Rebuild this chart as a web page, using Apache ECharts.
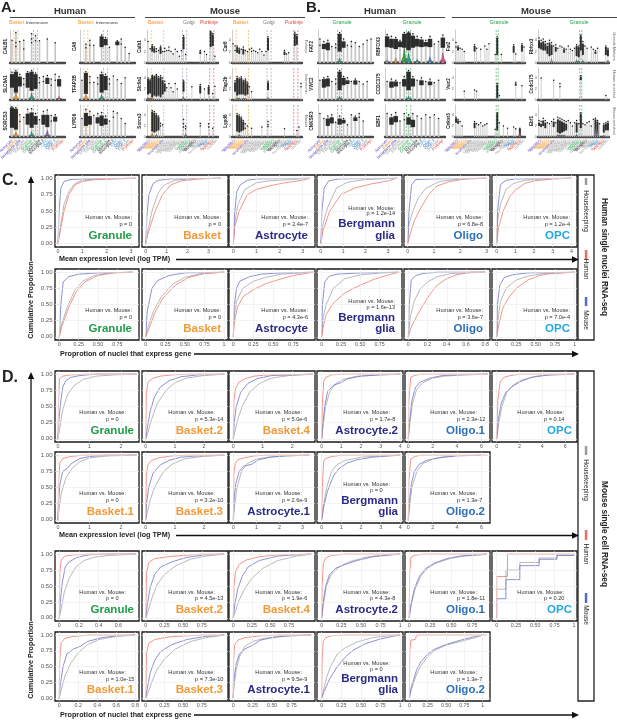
<!DOCTYPE html>
<html><head><meta charset="utf-8">
<script src="https://cdn.jsdelivr.net/npm/echarts@6/dist/echarts.min.js"></script>
<style>html,body{margin:0;padding:0;background:#fff}#c{width:617px;height:721px}</style>
</head><body><div id="c"></div>
<script>
// ================= DATA =================
const humanCats = ['Astrocyte','Basket','Bergmann glia','Endothelial','Fibroblast','Granule','Granule.2','Microglia','Microglia.2','OPC','Oligo','Oligo.2','Pericyte','Purkinje'];
const mouseCats = ['Astrocyte.1','Astrocyte.2','Basket.1','Basket.2','Basket.3','Basket.4','Basket.5','Bergmann glia','Choroid.1','Choroid.2',
  'Endothelial.1','Endothelial.2','Endothelial.3','Ependymal','Fibroblast.1','Fibroblast.2','Fibroblast.3','Golgi','Granule.1','Granule.2',
  'Granule.3','Macrophage','Microglia.1','Microglia.2','Mural.1','Mural.2','Neurogenesis','Oligo.1','Oligo.2','OPC','Purkinje.1','Purkinje.2','UBC','Unknown'];

// per category: [max value (stick top), dense range low, dense range high, ...other points]
const aH_CALB1  = [[3.6],[4.8,0,0,2.6,3.2],[3.4],[3.6,0,0,2.2],[0],[4.6,0,0,3.8,3.2],[4.3,0,0,3.5],[3.5],[0],[3.8],[0],[3.2],[0],[0]];
const aH_SLC6A1 = [[4.5,2,4.2],[4.8,1.2,4.6],[4.2,2.2,3.8],[3.5,0,0,2.5],[4.6,2,4.4],[4.8,1.5,4.6],[4.4,1.8,4.2],[3.6,0,0,2.8],[3.8,0,0,3.0],[4.0,2.6,3.6],[3.4,0,0,2.4],[4.2,0,0,3.2],[3.8,2.2,3.4],[0]];
const aH_SORCS3 = [[4.9,1.5,4.8],[4.8,1.2,4.6],[3.6,0,0,2.5],[3.2],[4.5,2,3.8],[4.6,1.5,4.0],[3.8,2,3.4],[2.8],[4.2,2,3.6],[4.4,1.6,3.6],[3.5,0,0,2.6],[3.6,2.5,3.3],[0],[0]];
const aH_CA8    = [[0],[3.0,0,0,2.4],[3.6,0,0,2.8],[2.8],[0],[4.4,2.5,4.2],[4.0,2.8,3.8],[2.5],[0],[3.5,2.8,3.4],[3.8,0,0,3.0],[2.5],[1.5],[0]];
const aH_TFAP2B = [[3.2],[4.6,1,4.4],[3.8,0,0,2.8],[2.9],[3.6,0,0,2.6],[4.5,1.2,4.2],[4.2,1.6,3.9],[3.4,0,0,2.6],[3.9],[3.3],[2.7],[3.6],[0],[0]];
const aH_LYPD6  = [[3.0],[4.5,1.8,3.9],[4.2,2,3.4],[3.5],[3.8,2.2,3.2],[4.0,1.8,3.5],[3.4,2,3.0],[2.6],[4.2,0,0,3.2],[3.9],[3.0],[2.2],[0],[0]];

const aM_Calb1 = [[3.8],[2.5],[3.2,2,3],[2.8,1.8,2.6],[2.5,0,0,2.0],[2.2],[3.0,1.6,2.8],[2.0],[2.6,0,0,2.0],[2.2],
  [2.8,0,0,2.2],[2.0],[1.6],[2.4],[2.0],[1.2],[2.2],[4.8,2.4,4.6],[1.5],[0],
  [0],[0],[0],[0],[0],[2.2,1.6,2.0],[0],[2.0],[1.5],[0],[5.6,2.8,5.5],[5.2,3,5.0],[1.2],[0]];
const aM_Slc6a1 = [[4,1,3.8],[3.8,1.2,3.6],[4.5,0.5,4.4],[4.3,0.8,4.2],[4.6,0.6,4.5],[4.2,0.8,4.0],[4.4,0.5,4.2],[4.0,1,3.6],[3.4,1.5,3.0],[2.2],
  [3.0],[2.2],[1.5],[3.0],[2.0],[0],[0],[3.6,1.5,3.4],[0],[0],
  [0],[2.4],[0],[0],[0],[2.8,1.2,2.6],[0],[2.0],[0],[2.6,1,2.4],[0],[1.2],[2.5],[0]];
const aM_Sorcs3 = [[0],[0],[4.8,1,4.6],[4.6,0.8,4.4],[4.2,1,4.0],[3.8,1.2,3.6],[2.5,0,0,2],[2.2],[0],[0],
  [0],[0],[0],[0],[0],[0],[0],[3.2,0,0,2.4,1.8],[2.0,0,0,1.5],[0],
  [0],[0],[0],[0],[0],[2.5,0,0,2],[0],[0],[0],[2.4,0,0,1.8],[0],[1.6],[0],[0]];
const aM_Car8 = [[3.4],[3.0,0,0,2.2],[3.0,1.8,2.8],[2.6,1.6,2.4],[2.4],[2.8,1.5,2.5],[2.2],[2.0],[2.4],[2.6,0,0,2],
  [2.2],[2.0],[1.8],[2.4],[2.0],[1.4],[2.0],[4.6,2.2,4.4],[0],[0],
  [0],[0],[0],[0],[0],[2.2,1.4,2.0],[1.6],[1.8],[0],[0],[5.4,3,5.2],[5.0,3.2,4.8],[0],[0]];
const aM_Tfap2b = [[0],[3.5,1.5,3.2],[4.2,0.8,4],[4.0,1,3.8],[4.2,1,4.0],[3.6,1,3.4],[3.8,0.8,3.6],[3.2,1,3.0],[2.4],[1.5],
  [0],[0],[0],[0],[0],[0],[0],[3.4,1.8,3.2],[0],[0],
  [0],[0],[0],[0],[0],[0],[0],[0],[0],[0],[0],[0],[0],[3.0,0,0,2.4]];
const aM_Lypd6 = [[0],[0],[4.2,1,4.0],[4.0,0.8,3.8],[3.6,1,3.4],[3.0,1.2,2.8],[2.4,0,0,1.6],[2.0],[0],[1.6],
  [0],[0],[0],[0],[1.8],[0],[0],[2.8,0,0,2.2,1.9],[0],[0],
  [0],[0],[0],[0],[0],[1.5],[0],[0],[0],[0],[0],[1.2],[1.8],[0]];

const bH_FAT2   = [[3.8,0,0,2.8],[3.4,2.2,3.0],[3.6,2,3.2],[2.6],[3.0,0,0,2.4],[4.8,1.8,4.6],[3.8,2.4,3.4],[2.8],[3.4,0,0,2.6],[3.2],[2.6],[3.0],[3.6],[3.8]];
const bH_VWC2   = [[3.2],[3.6,2,3.4],[3.8,2.2,3.5],[3.0],[3.4,0,0,2.6],[4.8,1.6,4.6],[3.8,2.4,3.6],[3.6,2.6,3.2],[3.0],[3.4,2.5,3.2],[3.0],[2.6],[3.0],[0]];
const bH_CNKSR3 = [[3.8],[3.0],[3.4,1.8,3.0],[3.6,2.2,3.2],[2.4],[3.4,2,3.0],[3.0,2.2,2.8],[2.0],[3.6],[3.4,2.6,3.2],[3.8,0,0,3.2],[2.6],[0],[0]];
const bH_RBFOX3 = [[4.5,2.5,4.2],[4.2,2.4,3.8],[4.0,2.2,3.8],[3.6,2.5,3.4],[4.8,2.4,4.6],[4.9,2,4.8],[4.6,2.4,4.3],[4.2,2.6,3.8],[4.0,2.5,3.7],[3.6,2.6,3.3],[4.2,2.5,3.8],[3.0],[3.4],[4.4,2.4,4.0]];
const bH_CCDC175= [[3.0],[3.4,2,3.0],[3.2,2.2,3.0],[2.8],[3.8,2.2,3.4],[4.8,1.6,4.6],[3.8,2.2,3.5],[3.2],[3.6,2.4,3.2],[3.0],[3.4,2.4,3.0],[2.8],[3.2],[0]];
const bH_EBF1   = [[3.8],[3.6,2,3.2],[4.0,2.4,3.4],[2.6],[3.8,0,0,2.8],[3.6,2,3.2],[3.8,1.6,2.8],[3.4],[3.0],[3.6],[3.2],[3.6],[3.0],[0]];

const bM_Fat2 = [[3.6,0,0,2.8],[3.0,2.2,2.8],[2.6],[2.4],[2.0],[0],[0],[0],[0],[3.2,2,3.0],
  [2.6],[0],[2.4],[0],[3.0],[2.4],[3.4],[0],[0],[1.5],
  [4.6,1.4,4.4],[0],[1.5],[0],[0],[0],[0],[0],[3.2,1.8,3.0],[1.6],[0],[0],[3.4,2,3.2],[2.8]];
const bM_Vwc2 = [[0],[0],[0],[0],[1.6],[0],[0],[0],[0],[1.8],
  [1.6],[0],[0],[0],[0],[0],[0],[0],[0],[0],
  [3.0,0.4,2.8],[0.8],[0],[0],[0],[0],[0],[0],[0],[3.2,2.6,3.0],[0],[0],[2.6],[0]];
const bM_Cnksr3 = [[3.6,2.6,3.4],[3.2,2.4,3.0],[2.8],[2.0],[0],[0],[0],[0],[0],[2.8,1.6,2.6],
  [2.4],[2.2],[2.6],[2.0],[2.2],[2.4],[0],[0],[0],[1.4],
  [4.4,1.2,4.3],[2.6],[0],[2.0],[0],[1.6],[0],[0],[1.8],[1.5],[0],[1.6,0.2,1.5],[0],[0]];
const bM_Rbfox3 = [[4.4,2.6,4],[4.0,2.4,3.6],[4.2,2.2,3.8],[3.8,2.2,3.4],[3.4,1.6,3.0],[4.0,1.2,3.6],[3.6,1.4,3.2],[3.0],[3.2,2,2.8],[2.6],
  [3.0],[2.8],[2.6,1.8,2.4],[2.4],[3.0],[2.4],[2.2],[2.6],[3.2,1.2,3.0],[3.0,1.0,2.8],
  [4.9,2.2,4.8],[3.8,1.4,3.4],[3.0],[2.6],[0],[2.8],[2.4],[2.2,1.6,2.0],[2.6],[0],[0],[0],[3.0,1.4,2.8],[2.6,1.2,2.4]];
const bM_Ccdc175 = [[0],[4.0],[0],[0],[0],[0],[0],[3.6],[0],[0],
  [3.0,0,0,2.4],[0],[0],[0],[0],[0],[0],[0],[0],[0],
  [4.4,3.6,4.2],[0],[0],[0],[0],[0],[0],[0],[0],[0],[0],[0],[0.8],[0]];
const bM_Ebf1 = [[3.0,2,2.6],[2.8,1.8,2.4],[3.4,2,3.0],[3.0,1.6,2.6],[2.6],[2.4],[2.8],[3.2,1.8,2.8],[2.6],[3.6,0.8,3.2],
  [3.4,0.6,3.0],[3.2,0.8,2.8],[3.0,1,2.6],[2.8,1.2,2.4],[3.0],[2.6],[2.0],[2.6],[3.0,0.8,2.6],[2.4],
  [4.4,1.6,4.2],[2.4],[2.2],[2.6],[2.8],[2.0],[3.2],[3.4,0.5,3.2],[3.0,0.5,2.8],[2.4],[0],[2.4,0.8,2.2],[2.6,1.2,2.4],[2.8,1.2,2.6]];

// violins at the base: [category index, height, group]
const aH_SLC6A1_vio = [[1,1.2,'bas'],[5,1.2,'tea'],[12,0.6,'red']];
const aH_SORCS3_vio = [[1,0.8,'bas'],[5,0.9,'tea'],[9,1.1,'vio']];
const aH_TFAP2B_vio = [[1,0.9,'bas'],[5,0.9,'tea']];
const aM_Slc6a1_vio = [[0,0.5,'red'],[1,0.4,'red'],[2,0.6,'olv'],[17,0.6,'tea']];
const aM_Sorcs3_vio = [[2,0.7,'olv'],[4,0.5,'olv'],[18,0.6,'tea']];
const aM_Tfap2b_vio = [[2,0.5,'olv'],[3,0.4,'olv'],[5,0.4,'olv'],[6,0.3,'olv'],[17,0.5,'tea']];
const aM_Lypd6_vio  = [[3,0.5,'olv']];
const bH_FAT2_vio   = [[5,0.8,'tea']];
const bH_VWC2_vio   = [[5,0.6,'tea']];
const bH_RBFOX3_vio = [[0,0.5,'gry'],[2,0.8,'bas'],[4,2.4,'grn'],[5,1.6,'tea'],[7,0.6,'tea'],[10,1.0,'blu'],[13,1.6,'pnk']];
const bH_CCDC175_vio= [[5,0.6,'tea']];
const bM_Vwc2_vio   = [[20,0.3,'tea']];
const bM_Cnksr3_vio = [[31,1.2,'pnk']];
const bM_Rbfox3_vio = [[6,0.8,'olv'],[18,0.6,'tea'],[19,0.5,'tea'],[21,0.5,'tea'],[33,0.5,'pnk']];
const bM_Ebf1_vio   = [[9,0.5,'grn'],[10,0.4,'grn'],[11,0.4,'grn'],[12,0.4,'grn'],[18,0.5,'tea'],[27,1.8,'lav'],[28,1.6,'lav'],[31,0.3,'pnk']];

// highlighted category ranges: [from, to, group]
const aH_marks = [[1,1,'bas'],[6,6,'gry']];
const aM_marks = [[2,7,'bas'],[17,18,'gry'],[30,31,'red']];
const bH_marks = [[5,5,'grn']];
const bM_marks = [[20,20,'grn']];

// ---- Panel C : human single nuclei ----
const cTitles = ['Granule','Basket','Astrocyte','Bergmann glia','Oligo','OPC'];
const cMeanP  = ['0','0','2.4e-7','1.2e-14','6.8e-8','1.2e-4'];
const cPropP  = ['0','0','4.3e-6','1.6e-13','3.6e-7','7.0e-4'];
const cMeanTicks = [[0,1,2,3],[0,1,2,3],[0,1,2,3],[0,1,2,3],[0,1,2,3],[0,1,2,3,4]];
const cPropTicks = [[0,0.25,0.5,0.75],[0,0.25,0.5,0.75,1],[0,0.25,0.5,0.75],[0,0.25,0.5,0.75],[0,0.2,0.4,0.6,0.8],[0,0.25,0.5,0.75,1]];
const cMeanHK = [
 [[0,0],[0.1,0.25],[0.25,0.6],[0.45,0.8],[0.7,0.92],[1,0.97],[1.5,0.99],[3.2,1]],
 [[0,0],[0.1,0.2],[0.3,0.5],[0.6,0.78],[0.9,0.9],[1.4,0.97],[2,0.99],[3.6,1]],
 [[0,0],[0.05,0.3],[0.2,0.6],[0.5,0.83],[1,0.93],[1.5,0.96],[2.5,0.98],[3.3,1]],
 [[0,0],[0.1,0.3],[0.3,0.55],[0.7,0.85],[1.2,0.94],[2,0.98],[3.4,1]],
 [[0,0],[0.05,0.3],[0.2,0.5],[0.4,0.7],[0.7,0.85],[1.2,0.95],[2,0.99],[3,1]],
 [[0,0],[0.05,0.35],[0.2,0.6],[0.5,0.83],[0.9,0.92],[1.5,0.97],[2.5,0.99],[4,1]]];
const cMeanHuman = [
 [[0,0],[0.1,0.2],[0.25,0.5],[0.45,0.75],[0.7,0.9],[1,0.95],[1.5,0.98],[3.2,1]],
 [[0,0],[0.1,0.15],[0.45,0.5],[0.8,0.75],[1.2,0.9],[1.7,0.96],[2.5,0.99],[3.6,1]],
 [[0,0],[0.05,0.25],[0.25,0.5],[0.6,0.75],[1,0.83],[1.5,0.88],[2.2,0.93],[3,0.97],[3.3,1]],
 [[0,0],[0.1,0.2],[0.4,0.5],[0.9,0.75],[1.5,0.85],[2.2,0.91],[3,0.96],[3.4,1]],
 [[0,0],[0.1,0.15],[0.25,0.35],[0.5,0.55],[0.8,0.75],[1.1,0.88],[1.6,0.95],[2.2,0.99],[3,1]],
 [[0,0],[0.1,0.25],[0.35,0.5],[0.7,0.72],[1,0.82],[1.5,0.92],[2,0.96],[3,0.99],[4,1]]];
const cMeanMouse = [
 [[0,0],[0.05,0.5],[0.12,0.85],[0.25,0.95],[0.5,0.98],[1,0.99],[3.2,1]],
 [[0,0],[0.05,0.4],[0.15,0.75],[0.35,0.92],[0.6,0.97],[1.2,0.99],[3.6,1]],
 [[0,0],[0.05,0.45],[0.15,0.8],[0.3,0.9],[0.6,0.97],[1,0.99],[3.3,1]],
 [[0,0],[0.05,0.5],[0.15,0.85],[0.35,0.96],[0.8,0.99],[3.4,1]],
 [[0,0],[0.05,0.5],[0.15,0.9],[0.3,0.98],[1,0.99],[3,1]],
 [[0,0],[0.05,0.5],[0.2,0.9],[0.5,0.97],[1,0.99],[4,1]]];
const cPropHK = [
 [[0,0],[0.03,0.2],[0.1,0.45],[0.2,0.72],[0.3,0.86],[0.45,0.95],[0.65,0.99],[0.95,1]],
 [[0,0],[0.03,0.15],[0.1,0.4],[0.2,0.62],[0.35,0.82],[0.5,0.92],[0.7,0.98],[1,1]],
 [[0,0],[0.01,0.3],[0.04,0.55],[0.12,0.75],[0.25,0.86],[0.4,0.92],[0.6,0.97],[1,1]],
 [[0,0],[0.02,0.3],[0.06,0.5],[0.15,0.75],[0.3,0.9],[0.5,0.96],[0.8,0.99],[1,1]],
 [[0,0],[0.02,0.3],[0.06,0.55],[0.12,0.73],[0.2,0.85],[0.3,0.93],[0.45,0.98],[0.8,1]],
 [[0,0],[0.02,0.3],[0.05,0.55],[0.12,0.75],[0.25,0.88],[0.4,0.94],[0.6,0.98],[1,1]]];
const cPropHuman = [
 [[0,0],[0.03,0.15],[0.12,0.45],[0.22,0.7],[0.33,0.85],[0.5,0.95],[0.7,0.99],[0.95,1]],
 [[0,0],[0.04,0.12],[0.12,0.38],[0.22,0.6],[0.38,0.8],[0.55,0.92],[0.75,0.98],[1,1]],
 [[0,0],[0.01,0.2],[0.05,0.45],[0.12,0.62],[0.25,0.73],[0.4,0.82],[0.55,0.88],[0.75,0.95],[1,1]],
 [[0,0],[0.02,0.15],[0.06,0.35],[0.15,0.52],[0.3,0.68],[0.5,0.8],[0.7,0.9],[0.9,0.97],[1,1]],
 [[0,0],[0.03,0.15],[0.08,0.3],[0.15,0.48],[0.22,0.65],[0.3,0.8],[0.4,0.9],[0.5,0.96],[0.65,1],[0.8,1]],
 [[0,0],[0.03,0.2],[0.08,0.45],[0.15,0.6],[0.25,0.75],[0.4,0.88],[0.55,0.95],[0.7,0.98],[1,1]]];
const cPropMouse = [
 [[0,0],[0.02,0.5],[0.05,0.85],[0.12,0.93],[0.25,0.97],[0.5,0.99],[0.95,1]],
 [[0,0],[0.02,0.4],[0.08,0.75],[0.15,0.87],[0.3,0.95],[0.5,0.99],[1,1]],
 [[0,0],[0.01,0.45],[0.04,0.75],[0.08,0.86],[0.2,0.93],[0.35,0.97],[0.6,0.99],[1,1]],
 [[0,0],[0.01,0.5],[0.04,0.85],[0.1,0.94],[0.2,0.97],[0.5,0.99],[1,1]],
 [[0,0],[0.01,0.5],[0.03,0.88],[0.08,0.95],[0.15,0.98],[0.3,1],[0.8,1]],
 [[0,0],[0.01,0.5],[0.04,0.8],[0.1,0.92],[0.2,0.96],[0.4,0.99],[1,1]]];

// ---- Panel D : mouse single cell ----
const dTitlesA = ['Granule','Basket.2','Basket.4','Astrocyte.2','Oligo.1','OPC'];
const dTitlesB = ['Basket.1','Basket.3','Astrocyte.1','Bergmann glia','Oligo.2'];
const dMeanP_A = ['0','5.3e-14','5.0e-6','1.7e-8','2.3e-12','0.14'];
const dMeanP_B = ['0','3.2e-10','2.6e-9','0','1.3e-7'];
const dPropP_A = ['0','4.5e-13','1.9e-6','4.3e-8','1.8e-11','0.20'];
const dPropP_B = ['1.0e-15','7.3e-10','9.5e-9','0','1.3e-7'];
const dMeanTicksA = [[0,1,2],[0,1,2],[0,1,2],[0,1,2,3,4],[0,2,4,6],[0,2,4,6]];
const dMeanTicksB = [[0,1,2],[0,1,2],[0,1,2,3],[0,1,2,3,4],[0,2,4,6]];
const dPropTicksA = [[0,0.2,0.4,0.6],[0,0.25,0.5,0.75],[0,0.25,0.5,0.75],[0,0.25,0.5,0.75,1],[0,0.25,0.5,0.75],[0,0.25,0.5,0.75,1]];
const dPropTicksB = [[0,0.2,0.4,0.6,0.8],[0,0.25,0.5,0.75],[0,0.25,0.5,0.75],[0,0.25,0.5,0.75,1],[0,0.25,0.5,0.75,1]];

const dMeanHK_A = [
 [[0,0],[0.05,0.15],[0.15,0.45],[0.3,0.68],[0.5,0.82],[0.8,0.92],[1.2,0.97],[1.8,0.99],[2.5,1]],
 [[0,0],[0.08,0.1],[0.2,0.3],[0.4,0.55],[0.7,0.75],[1,0.87],[1.4,0.94],[2,0.98],[2.7,1]],
 [[0,0],[0.05,0.1],[0.15,0.3],[0.3,0.5],[0.55,0.72],[0.9,0.86],[1.3,0.94],[1.9,0.98],[2.7,1]],
 [[0,0],[0.05,0.15],[0.2,0.5],[0.4,0.72],[0.7,0.85],[1.1,0.92],[1.8,0.97],[2.8,0.99],[4,1]],
 [[0,0],[0.1,0.2],[0.35,0.55],[0.7,0.77],[1.2,0.87],[2,0.94],[3,0.97],[4.5,0.99],[6.5,1]],
 [[0,0],[0.15,0.2],[0.45,0.5],[0.9,0.72],[1.5,0.84],[2.2,0.91],[3.5,0.97],[5,0.99],[6.8,1]]];
const dMeanHuman_A = [
 [[0,0],[0.02,0.6],[0.05,0.93],[0.15,0.97],[0.4,0.99],[1,1],[2.5,1]],
 [[0,0],[0.02,0.7],[0.08,0.88],[0.25,0.94],[0.5,0.97],[0.9,0.99],[1.5,1],[2.7,1]],
 [[0,0],[0.02,0.6],[0.08,0.78],[0.2,0.88],[0.4,0.93],[0.7,0.97],[1.2,0.99],[2.7,1]],
 [[0,0],[0.03,0.5],[0.1,0.88],[0.2,0.95],[0.5,0.99],[1,1],[4,1]],
 [[0,0],[0.05,0.6],[0.2,0.95],[0.5,0.98],[1,1],[6.5,1]],
 [[0,0],[0.1,0.6],[0.3,0.88],[0.6,0.95],[1.2,0.98],[2,1],[6.8,1]]];
const dMeanMouse_A = [
 [[0,0],[0.03,0.3],[0.08,0.55],[0.15,0.8],[0.25,0.9],[0.4,0.95],[0.7,0.98],[1.2,1],[2.5,1]],
 [[0,0],[0.05,0.15],[0.15,0.42],[0.3,0.65],[0.5,0.8],[0.8,0.9],[1.2,0.96],[1.8,0.99],[2.7,1]],
 [[0,0],[0.03,0.25],[0.1,0.5],[0.25,0.72],[0.5,0.86],[0.8,0.93],[1.3,0.98],[2.7,1]],
 [[0,0],[0.05,0.2],[0.15,0.5],[0.3,0.73],[0.6,0.83],[1,0.87],[1.3,0.93],[2,0.97],[3,0.99],[4,1]],
 [[0,0],[0.1,0.25],[0.3,0.6],[0.6,0.8],[1,0.88],[1.8,0.94],[2.8,0.98],[4,0.99],[6.5,1]],
 [[0,0],[0.15,0.3],[0.4,0.55],[0.8,0.72],[1.3,0.8],[2,0.88],[3,0.95],[4.5,0.99],[6.8,1]]];
const dMeanHK_B = [
 [[0,0],[0.03,0.15],[0.1,0.4],[0.25,0.65],[0.45,0.8],[0.7,0.9],[1,0.96],[1.6,0.99],[2.5,1]],
 [[0,0],[0.05,0.1],[0.15,0.3],[0.3,0.5],[0.6,0.74],[0.9,0.86],[1.3,0.94],[1.9,0.98],[2.7,1]],
 [[0,0],[0.05,0.2],[0.15,0.48],[0.35,0.75],[0.6,0.87],[1,0.94],[1.5,0.97],[2.2,0.99],[3.3,1]],
 [[0,0],[0.08,0.2],[0.25,0.5],[0.5,0.75],[0.8,0.86],[1.2,0.92],[2,0.97],[3,0.99],[4,1]],
 [[0,0],[0.1,0.2],[0.3,0.5],[0.7,0.75],[1.2,0.87],[2,0.94],[3,0.98],[3.8,0.99]]];
const dMeanHuman_B = [
 [[0,0],[0.02,0.6],[0.06,0.88],[0.15,0.95],[0.4,0.98],[0.8,1],[2.5,1]],
 [[0,0],[0.02,0.7],[0.08,0.86],[0.2,0.92],[0.45,0.96],[0.9,0.99],[1.5,1],[2.7,1]],
 [[0,0],[0.02,0.7],[0.08,0.87],[0.2,0.93],[0.5,0.96],[0.9,0.99],[1.5,1],[3.3,1]],
 [[0,0],[0.03,0.5],[0.1,0.9],[0.2,0.95],[0.5,0.98],[1,1],[4,1]],
 [[0,0],[0.05,0.6],[0.2,0.94],[0.5,0.98],[1,1],[6.5,1]]];
const dMeanMouse_B = [
 [[0,0],[0.02,0.3],[0.06,0.55],[0.15,0.75],[0.3,0.8],[0.45,0.88],[0.7,0.95],[1,0.98],[1.5,1],[2.5,1]],
 [[0,0],[0.03,0.25],[0.1,0.5],[0.25,0.72],[0.5,0.85],[0.8,0.92],[1.2,0.97],[1.8,0.99],[2.7,1]],
 [[0,0],[0.03,0.3],[0.1,0.55],[0.25,0.75],[0.45,0.83],[0.8,0.86],[1.1,0.93],[1.6,0.97],[2.3,0.99],[3.3,1]],
 [[0,0],[0.1,0.2],[0.3,0.45],[0.6,0.68],[0.9,0.8],[1.3,0.88],[1.8,0.93],[2.6,0.97],[3.5,0.99],[4,1]],
 [[0,0],[0.1,0.3],[0.25,0.55],[0.5,0.75],[0.9,0.86],[1.5,0.92],[2.5,0.96],[4,0.99],[6,1]]];

const dPropHK_A = [
 [[0,0],[0.02,0.15],[0.05,0.4],[0.1,0.62],[0.17,0.8],[0.25,0.9],[0.35,0.95],[0.5,0.98],[0.78,1]],
 [[0,0],[0.03,0.1],[0.08,0.3],[0.15,0.52],[0.25,0.68],[0.4,0.82],[0.6,0.92],[0.8,0.97],[1.05,1]],
 [[0,0],[0.03,0.1],[0.08,0.28],[0.15,0.45],[0.25,0.62],[0.4,0.78],[0.6,0.9],[0.85,0.97],[1.05,1]],
 [[0,0],[0.02,0.2],[0.06,0.5],[0.12,0.68],[0.22,0.8],[0.35,0.88],[0.55,0.95],[0.8,0.99],[1,1]],
 [[0,0],[0.02,0.18],[0.07,0.45],[0.14,0.66],[0.22,0.78],[0.32,0.86],[0.48,0.93],[0.65,0.97],[0.85,0.99],[0.92,1]],
 [[0,0],[0,0.45],[0.12,0.45],[0.12,0.75],[0.3,0.75],[0.3,0.87],[0.55,0.87],[0.55,0.94],[0.78,0.94],[0.78,0.99],[1,0.99],[1,1]]];
const dPropHuman_A = [
 [[0,0],[0.005,0.7],[0.02,0.92],[0.06,0.97],[0.15,0.99],[0.3,1],[0.78,1]],
 [[0,0],[0.01,0.7],[0.04,0.87],[0.12,0.93],[0.3,0.96],[0.5,0.98],[0.75,1],[1.05,1]],
 [[0,0],[0.01,0.5],[0.03,0.72],[0.08,0.84],[0.18,0.91],[0.35,0.96],[0.6,0.99],[1.05,1]],
 [[0,0],[0.005,0.5],[0.02,0.85],[0.05,0.94],[0.12,0.98],[0.3,1],[1,1]],
 [[0,0],[0.005,0.7],[0.02,0.95],[0.06,0.98],[0.15,1],[0.92,1]],
 [[0,0],[0,0.65],[0.14,0.65],[0.14,1],[1,1]]];
const dPropMouse_A = [
 [[0,0],[0.01,0.25],[0.03,0.55],[0.06,0.8],[0.1,0.88],[0.18,0.95],[0.3,0.99],[0.5,1],[0.78,1]],
 [[0,0],[0.02,0.2],[0.06,0.48],[0.12,0.68],[0.2,0.8],[0.35,0.88],[0.55,0.95],[0.8,0.99],[1.05,1]],
 [[0,0],[0.02,0.2],[0.06,0.45],[0.12,0.65],[0.2,0.8],[0.35,0.9],[0.6,0.97],[0.85,0.99],[1.05,1]],
 [[0,0],[0.02,0.25],[0.05,0.5],[0.1,0.68],[0.18,0.78],[0.3,0.84],[0.45,0.9],[0.65,0.96],[0.9,0.99],[1,1]],
 [[0,0],[0.02,0.2],[0.06,0.45],[0.12,0.65],[0.2,0.78],[0.3,0.86],[0.45,0.93],[0.6,0.97],[0.8,0.99],[0.92,1]],
 [[0,0],[0,0.3],[0.12,0.3],[0.12,0.6],[0.3,0.6],[0.3,0.82],[0.55,0.82],[0.55,0.92],[0.78,0.92],[0.78,0.98],[1,0.98],[1,1]]];
const dPropHK_B = [
 [[0,0],[0.02,0.12],[0.06,0.35],[0.12,0.55],[0.2,0.72],[0.3,0.85],[0.42,0.93],[0.6,0.98],[0.8,1]],
 [[0,0],[0.03,0.08],[0.08,0.25],[0.15,0.45],[0.25,0.62],[0.4,0.78],[0.6,0.9],[0.85,0.97],[1.05,1]],
 [[0,0],[0.01,0.2],[0.04,0.45],[0.08,0.65],[0.15,0.82],[0.25,0.9],[0.4,0.95],[0.6,0.98],[1,1]],
 [[0,0],[0.02,0.1],[0.06,0.32],[0.12,0.52],[0.2,0.7],[0.3,0.8],[0.45,0.89],[0.65,0.96],[0.85,0.99],[1,1]],
 [[0,0],[0.02,0.1],[0.06,0.25],[0.1,0.38],[0.16,0.52],[0.25,0.66],[0.35,0.76],[0.5,0.84],[0.7,0.9],[0.9,0.96],[1,1]]];
const dPropHuman_B = [
 [[0,0],[0.005,0.6],[0.02,0.88],[0.06,0.95],[0.15,0.98],[0.3,1],[0.8,1]],
 [[0,0],[0.01,0.7],[0.04,0.87],[0.12,0.93],[0.3,0.97],[0.55,0.99],[0.8,1],[1.05,1]],
 [[0,0],[0.005,0.6],[0.02,0.85],[0.06,0.92],[0.15,0.96],[0.35,0.99],[0.6,1],[1,1]],
 [[0,0],[0.005,0.6],[0.02,0.9],[0.05,0.96],[0.12,0.99],[0.3,1],[1,1]],
 [[0,0],[0.005,0.75],[0.02,0.92],[0.08,0.93],[0.1,1],[1.05,1]]];
const dPropMouse_B = [
 [[0,0],[0.01,0.2],[0.04,0.5],[0.08,0.7],[0.15,0.78],[0.22,0.82],[0.3,0.9],[0.45,0.96],[0.6,0.99],[0.8,1]],
 [[0,0],[0.02,0.15],[0.06,0.4],[0.12,0.6],[0.2,0.74],[0.35,0.85],[0.55,0.93],[0.8,0.98],[1.05,1]],
 [[0,0],[0.01,0.3],[0.04,0.55],[0.08,0.7],[0.15,0.78],[0.25,0.84],[0.35,0.92],[0.5,0.96],[0.7,0.99],[1,1]],
 [[0,0],[0.03,0.1],[0.1,0.3],[0.2,0.5],[0.3,0.65],[0.4,0.76],[0.55,0.86],[0.75,0.94],[0.9,0.98],[1,1]],
 [[0,0],[0.02,0.15],[0.06,0.3],[0.1,0.45],[0.16,0.58],[0.25,0.7],[0.35,0.78],[0.5,0.85],[0.7,0.92],[0.9,0.98],[1,1]]];

const yTicks = [0,0.25,0.5,0.75,1];

// ================= LAYOUT / STYLE =================
const FF = '"Liberation Sans", Arial, Helvetica, sans-serif';
const grids=[], xAxes=[], yAxes=[], series=[], graphics=[];
const COL = {bas:'#f0a030', tea:'#2aa080', red:'#e0505a', vio:'#8a5ac8', olv:'#b8a040', grn:'#3ca040',
             blu:'#3a8ad0', pnk:'#e0508a', gry:'#a0a0a0', lav:'#9a7ac8'};
const MARKCOL = {bas:'#f0a030', gry:'#8a96a4', red:'#e04040', grn:'#2aa050'};
function catColor(n){
  n=String(n);
  if(n.startsWith('Astrocyte')) return '#6a55c8';
  if(n.startsWith('Basket')) return '#f39a2f';
  if(n.startsWith('Bergmann')) return '#4a3fb0';
  if(n.startsWith('Granule')) return '#1e9e48';
  if(n.startsWith('OPC')) return '#22a8e2';
  if(n.startsWith('Oligo')) return '#2e70b8';
  if(n.startsWith('Purkinje')) return '#e0473a';
  if(n.startsWith('Microglia')) return '#222';
  return '#9a9a9a';
}
function titleColor(t){
  if(t.startsWith('Granule')) return '#1f9d48';
  if(t.startsWith('Basket')) return '#f29a38';
  if(t.startsWith('Astrocyte')||t.startsWith('Bergmann')) return '#2b2a86';
  if(t.startsWith('OPC')) return '#22a8e2';
  if(t.startsWith('Oligo')) return '#2e6fb8';
  return '#222';
}
function txt(x,y,s,o){o=o||{};
  graphics.push({type:'text', x:x, y:y, rotation:o.rot||0, silent:true, z:100,
    style:{text:s, x:0, y:0, fill:o.color||'#222', fontSize:o.size||6, fontWeight:o.bold?'bold':'normal', fontFamily:FF,
      align:o.align||'left', textAlign:o.align||'left', verticalAlign:o.va||'middle', textVerticalAlign:o.va||'middle'}});
}
function seg(x1,y1,x2,y2,c,w,dash){
  graphics.push({type:'line', silent:true, z:100, shape:{x1,y1,x2,y2}, style:{stroke:c, lineWidth:w, lineDash:dash||null}});
}
function box(x,y,w,h,stroke,fill,lw){
  graphics.push({type:'rect', silent:true, z:99, shape:{x,y,width:w,height:h}, style:{stroke:stroke||null, fill:fill||null, lineWidth:lw||1}});
}
function arrowR(x1,x2,y){ seg(x1,y,x2-5,y,'#111',1.3); graphics.push({type:'polygon',silent:true,z:100,shape:{points:[[x2-7,y-3.2],[x2,y],[x2-7,y+3.2]]},style:{fill:'#111'}}); }
function arrowU(x,y1,y2){ seg(x,y1+5,x,y2,'#111',1.3); graphics.push({type:'polygon',silent:true,z:100,shape:{points:[[x-3.2,y1+7],[x,y1],[x+3.2,y1+7]]},style:{fill:'#111'}}); }

// ---------- violin / strip panels ----------
function violinPanel(rect, cats, isMouse, entries, vios, marks, showLabels){
  const [x0,y0,x1,y1]=rect, g=grids.length;
  grids.push({left:x0, top:y0, width:x1-x0, height:y1-y0, containLabel:false, outerBoundsMode:'none', show:false});
  xAxes.push({gridIndex:g, type:'category', data:cats, boundaryGap:true,
    axisLine:{show:true, lineStyle:{color:'#4a4a4a', width:2.4}}, axisTick:{show:false}, splitLine:{show:false},
    axisLabel:{show:showLabels, interval:0, rotate:45, fontSize:isMouse?3.2:4, margin:3, fontFamily:FF, color:(v)=>catColor(v)}});
  yAxes.push({gridIndex:g, type:'value', min:0, max:isMouse?5.8:5.2,
    axisLine:{show:true, lineStyle:{color:'#9a9a9a', width:0.5}}, axisTick:{show:false}, splitLine:{show:false},
    axisLabel:{show:isMouse, customValues:[0,2,4], fontSize:3.6, color:'#555', margin:1.2, fontFamily:FF}});
  // highlight brackets
  series.push({type:'custom', xAxisIndex:g, yAxisIndex:g, silent:true, z:1, clip:false,
    data:marks.map(m=>[m[0],0]),
    renderItem:function(params, api){
      const m=marks[params.dataIndex], band=api.size([1,0])[0];
      const xa=api.coord([m[0],0])[0]-band/2, xb=api.coord([m[1],0])[0]+band/2;
      const cs=params.coordSys, c=MARKCOL[m[2]];
      return {type:'group', children:[
        {type:'line', shape:{x1:xa,y1:cs.y,x2:xa,y2:cs.y+cs.height}, style:{stroke:c,lineWidth:0.6,lineDash:[2,1.5]}},
        {type:'line', shape:{x1:xb,y1:cs.y,x2:xb,y2:cs.y+cs.height}, style:{stroke:c,lineWidth:0.6,lineDash:[2,1.5]}}]};
    }});
  // sticks, dense clouds, points
  series.push({type:'custom', xAxisIndex:g, yAxisIndex:g, silent:true, z:2,
    data:entries.map((e,i)=>[i,e[0]]),
    renderItem:function(params, api){
      const i=params.dataIndex, e=entries[i], band=api.size([1,0])[0], b=api.coord([i,0]);
      const ch=[];
      if(e[0]>0){
        const t=api.coord([i,e[0]]);
        ch.push({type:'line', shape:{x1:b[0],y1:b[1],x2:t[0],y2:t[1]}, style:{stroke:'#c6c6c6',lineWidth:Math.max(0.8,band*0.42)}});
        if(e[2]>0){
          const lo=api.coord([i,e[1]]), hi=api.coord([i,e[2]]), w=band*(isMouse?0.95:1.05);
          ch.push({type:'rect', shape:{x:b[0]-w/2,y:hi[1],width:w,height:lo[1]-hi[1]}, style:{fill:'#151515',opacity:0.88}});
        }
        const pts=[e[0]].concat(e.slice(3));
        pts.forEach(v=>{const p=api.coord([i,v]); ch.push({type:'circle', shape:{cx:p[0],cy:p[1],r:0.75}, style:{fill:'#111'}});});
      }
      return {type:'group', children:ch};
    }});
  if(vios && vios.length){
    series.push({type:'custom', xAxisIndex:g, yAxisIndex:g, silent:true, z:3,
      data:vios.map(v=>[v[0],v[1]]),
      renderItem:function(params, api){
        const v=vios[params.dataIndex], band=api.size([1,0])[0], b=api.coord([v[0],0]), t=api.coord([v[0],v[1]]);
        const w=band*(isMouse?1.3:1.5), h=b[1]-t[1];
        return {type:'polygon', shape:{points:[[b[0]-w/2,b[1]-1],[b[0]-w*0.18,b[1]-h*0.45],[b[0],t[1]],[b[0]+w*0.18,b[1]-h*0.45],[b[0]+w/2,b[1]-1]]},
          style:{fill:COL[v[2]], stroke:'#333', lineWidth:0.3}};
      }});
  }
}

const rowsAB = [[30,63],[68,100],[105,137]];
const secs = [
  {x:[10,65],   cats:humanCats, mouse:false, data:[aH_CALB1,aH_SLC6A1,aH_SORCS3], vio:[null,aH_SLC6A1_vio,aH_SORCS3_vio], marks:aH_marks, genes:['CALB1','SLC6A1','SORCS3'], gx:6},
  {x:[80,135],  cats:humanCats, mouse:false, data:[aH_CA8,aH_TFAP2B,aH_LYPD6], vio:[null,aH_TFAP2B_vio,null], marks:aH_marks, genes:['CA8','TFAP2B','LYPD6'], gx:75},
  {x:[147,218], cats:mouseCats, mouse:true, data:[aM_Calb1,aM_Slc6a1,aM_Sorcs3], vio:[null,aM_Slc6a1_vio,aM_Sorcs3_vio], marks:aM_marks, genes:['Calb1','Slc6a1','Sorcs3'], gx:140},
  {x:[232,302], cats:mouseCats, mouse:true, data:[aM_Car8,aM_Tfap2b,aM_Lypd6], vio:[null,aM_Tfap2b_vio,aM_Lypd6_vio], marks:aM_marks, genes:['Car8','Tfap2b','Lypd6'], gx:226},
  {x:[318,373], cats:humanCats, mouse:false, data:[bH_FAT2,bH_VWC2,bH_CNKSR3], vio:[bH_FAT2_vio,bH_VWC2_vio,null], marks:bH_marks, genes:['FAT2','VWC2','CNKSR3'], gx:312},
  {x:[385,445], cats:humanCats, mouse:false, data:[bH_RBFOX3,bH_CCDC175,bH_EBF1], vio:[bH_RBFOX3_vio,bH_CCDC175_vio,null], marks:bH_marks, genes:['RBFOX3','CCDC175','EBF1'], gx:379},
  {x:[455,525], cats:mouseCats, mouse:true, data:[bM_Fat2,bM_Vwc2,bM_Cnksr3], vio:[null,bM_Vwc2_vio,bM_Cnksr3_vio], marks:bM_marks, genes:['Fat2','Vwc2','Cnksr3'], gx:449},
  {x:[538,609], cats:mouseCats, mouse:true, data:[bM_Rbfox3,bM_Ccdc175,bM_Ebf1], vio:[bM_Rbfox3_vio,null,bM_Ebf1_vio], marks:bM_marks, genes:['Rbfox3','Ccdc175','Ebf1'], gx:532}
];
secs.forEach(s=>{
  for(let r=0;r<3;r++){
    violinPanel([s.x[0],rowsAB[r][0],s.x[1],rowsAB[r][1]], s.cats, s.mouse, s.data[r], s.vio[r], s.marks, r===2);
    txt(s.gx,(rowsAB[r][0]+rowsAB[r][1])/2,s.genes[r],{size:4.6,bold:true,rot:Math.PI/2,align:'center'});
  }
});
// headers A / B
txt(1,8,'A.',{size:15,bold:true}); txt(306,8,'B.',{size:15,bold:true});
txt(70,11,'Human',{size:9.5,bold:true,align:'center',color:'#333'});
txt(225,11,'Mouse',{size:9.5,bold:true,align:'center',color:'#333'});
txt(380,11,'Human',{size:9.5,bold:true,align:'center',color:'#333'});
txt(536,11,'Mouse',{size:9.5,bold:true,align:'center',color:'#333'});
seg(10,17.5,135,17.5,'#444',1); seg(145,17.5,305,17.5,'#444',1); seg(320,17.5,445,17.5,'#444',1); seg(452,17.5,617,17.5,'#444',1);
[[9,26],[78,96]].forEach(p=>{txt(p[0],23,'Basket',{size:5,color:'#f39a2f'}); txt(p[1],23,'Interneuron',{size:4.3,color:'#333'});});
[[148,183,200],[233,263,285]].forEach(p=>{txt(p[0],23,'Basket',{size:5,color:'#f39a2f'}); txt(p[1],23,'Golgi',{size:5,color:'#777'}); txt(p[2],23,'Purkinje',{size:5,color:'#e0473a'});});
[342,412,499,579].forEach(x=>txt(x,23,'Granule',{size:5.4,color:'#1e9e48',align:'center'}));
['Purkinje','Interneuron','Basket'].forEach((t,r)=>txt(306,(rowsAB[r][0]+rowsAB[r][1])/2,t,{size:3.8,color:'#555',rot:-Math.PI/2,align:'center'}));
['Granule Markers','Human-enriched','Mouse-enriched'].forEach((t,r)=>txt(614,(rowsAB[r][0]+rowsAB[r][1])/2,t,{size:3.8,color:'#555',rot:-Math.PI/2,align:'center'}));

// ---------- CDF panels ----------
function fmtTick(v,ticks){
  if(v===0) return '0'; if(v===1) return '1';
  if(ticks.indexOf(0.25)>=0) return v.toFixed(2);
  return String(v);
}
function cdfPanel(rect, rng, ticks, hk, hu, mo, showY, title, p, sec){
  const [x0,y0,x1,y1]=rect, g=grids.length, h=y1-y0;
  grids.push({left:x0, top:y0, width:x1-x0, height:h, show:true, backgroundColor:'#fff', borderColor:'#1a1a1a', borderWidth:1.3, containLabel:false, outerBoundsMode:'none'});
  xAxes.push({gridIndex:g, type:'value', min:rng[0], max:rng[1], axisLine:{show:false}, splitLine:{show:false},
    axisTick:{show:true, customValues:ticks, length:1.5, lineStyle:{color:'#777',width:0.5}},
    axisLabel:{customValues:ticks, formatter:v=>fmtTick(v,ticks), fontSize:5.3, color:'#555', margin:2.2, fontFamily:FF}});
  yAxes.push({gridIndex:g, type:'value', min:-0.05, max:1.05, axisLine:{show:false}, splitLine:{show:false},
    axisTick:{show:showY, customValues:yTicks, length:1.5, lineStyle:{color:'#777',width:0.5}},
    axisLabel:{show:showY, customValues:yTicks, formatter:v=>v.toFixed(2), fontSize:6, color:'#555', margin:2.5, fontFamily:FF}});
  const gl={silent:true, symbol:['none','none'], label:{show:false}, emphasis:{disabled:true}, animation:false,
    lineStyle:{color:'#ebebeb', width:0.6, type:'solid'}, data:ticks.map(v=>({xAxis:v})).concat(yTicks.map(v=>({yAxis:v})))};
  const mk=(d,c,extra)=>Object.assign({type:'line', xAxisIndex:g, yAxisIndex:g, data:d, showSymbol:false, symbol:'none', silent:true,
    lineStyle:{color:c,width:0.8}, itemStyle:{color:c}, animation:false, z:3}, extra||{});
  series.push(mk(hk,'#a6a6a6',{markLine:gl}));
  series.push(mk(mo,'#6c76c8'));
  series.push(mk(hu,'#ef7a6c'));
  // annotations
  const two = title.indexOf(' ')>0;
  const hx = sec==='C'? x1-7 : x1-13;
  txt(hx, y0+h*(two?0.46:0.59), 'Human vs. Mouse:', {size:5.6, align:'right', color:'#333'});
  if(sec==='C') txt(x1-7, y0+h*(two?0.54:0.685), 'p = '+p, {size:5.6, align:'right', color:'#333'});
  else txt(x1-33, y0+h*(two?0.54:0.685), 'p = '+p, {size:5.6, align:'left', color:'#333'});
  const tx = sec==='C'? x1-7 : x1-5, tc=titleColor(title);
  if(two){ const parts=title.split(' ');
    txt(tx, y0+h*0.685, parts[0], {size:11.5, bold:true, align:'right', color:tc});
    txt(tx, y0+h*0.845, parts[1], {size:11.5, bold:true, align:'right', color:tc});
  } else txt(tx, y0+h*0.845, title, {size:11.5, bold:true, align:'right', color:tc});
}
const cX = [[55,139],[142,228],[229,315],[317,402],[404,490],[492,577]];
const dX = [[55,139],[142,228],[229,315],[317,403],[405,490],[492,577]];
const cMeanRng = [[-0.12,3.33],[-0.18,3.94],[-0.19,3.53],[-0.17,3.63],[-0.14,3.13],[-0.25,4.3]];
const cPropRng = [[-0.056,1.03],[-0.047,1.05],[-0.054,1.02],[-0.06,1.04],[-0.045,0.85],[-0.06,1.03]];
const dMeanRngA = [[-0.095,2.57],[-0.127,2.82],[-0.146,2.77],[-0.24,4.14],[-0.27,6.7],[-0.41,7.04]];
const dMeanRngB = [[-0.095,2.57],[-0.127,2.82],[-0.19,3.55],[-0.24,4.14],[-0.27,6.7]];
const dPropRngA = [[-0.044,0.81],[-0.05,1.1],[-0.057,1.1],[-0.06,1.035],[-0.05,0.96],[-0.06,1.04]];
const dPropRngB = [[-0.045,0.84],[-0.05,1.1],[-0.054,1.05],[-0.06,1.035],[-0.06,1.1]];

for(let i=0;i<6;i++){
  cdfPanel([cX[i][0],175,cX[i][1],247], cMeanRng[i], cMeanTicks[i], cMeanHK[i], cMeanHuman[i], cMeanMouse[i], i===0, cTitles[i], cMeanP[i], 'C');
  cdfPanel([cX[i][0],269,cX[i][1],340], cPropRng[i], cPropTicks[i], cPropHK[i], cPropHuman[i], cPropMouse[i], i===0, cTitles[i], cPropP[i], 'C');
  cdfPanel([dX[i][0],371,dX[i][1],442], dMeanRngA[i], dMeanTicksA[i], dMeanHK_A[i], dMeanHuman_A[i], dMeanMouse_A[i], i===0, dTitlesA[i], dMeanP_A[i], 'D');
  cdfPanel([dX[i][0],551,dX[i][1],621], dPropRngA[i], dPropTicksA[i], dPropHK_A[i], dPropHuman_A[i], dPropMouse_A[i], i===0, dTitlesA[i], dPropP_A[i], 'D');
}
for(let i=0;i<5;i++){
  cdfPanel([dX[i][0],452,dX[i][1],523], dMeanRngB[i], dMeanTicksB[i], dMeanHK_B[i], dMeanHuman_B[i], dMeanMouse_B[i], i===0, dTitlesB[i], dMeanP_B[i], 'D');
  cdfPanel([dX[i][0],632,dX[i][1],701], dPropRngB[i], dPropTicksB[i], dPropHK_B[i], dPropHuman_B[i], dPropMouse_B[i], i===0, dTitlesB[i], dPropP_B[i], 'D');
}

// section labels, axis titles, arrows
txt(2,181,'C.',{size:16,bold:true}); txt(2,378,'D.',{size:16,bold:true});
txt(59,259.5,'Mean expression level (log TPM)',{size:7.2,bold:true});
arrowR(176,579,259.5);
txt(60,354,'Proprotion of nuclei that express gene',{size:7.2,bold:true});
arrowR(194,579,354);
txt(59,535.5,'Mean expression level (log TPM)',{size:7.2,bold:true});
arrowR(176,579,535.5);
txt(60,715,'Proprotion of nuclei that express gene',{size:7.2,bold:true});
arrowR(194,579,715);
txt(31,300,'Cumulative Proportion',{size:7.2,bold:true,rot:Math.PI/2,align:'center'});
arrowU(31,176,261);
txt(31,660,'Cumulative Proportion',{size:7.2,bold:true,rot:Math.PI/2,align:'center'});
arrowU(31,372,621);

// legend boxes
box(578,175,16,165,'#222',null,1.3);
box(584.8,178,2.5,7,null,'#9a9a9a'); txt(586,211,'Housekeeping',{size:6.5,rot:-Math.PI/2,align:'center'});
box(584.8,250,2.5,9,null,'#ef6b5d'); txt(586,269,'Human',{size:6.5,rot:-Math.PI/2,align:'center'});
box(584.8,297,2.5,9,null,'#5a68c0'); txt(586,320,'Mouse',{size:6.5,rot:-Math.PI/2,align:'center'});
box(578,371,16,330,'#222',null,1.3);
box(584.8,446,2.5,9,null,'#9a9a9a'); txt(586,480,'Housekeeping',{size:6.5,rot:-Math.PI/2,align:'center'});
box(584.8,530,2.5,10,null,'#ef6b5d'); txt(586,554,'Human',{size:6.5,rot:-Math.PI/2,align:'center'});
box(584.8,593,2.5,10,null,'#5a68c0'); txt(586,615,'Mouse',{size:6.5,rot:-Math.PI/2,align:'center'});
txt(604,257,'Human single nuclei RNA-seq',{size:8.3,bold:true,rot:-Math.PI/2,align:'center'});
txt(604,534,'Mouse single cell RNA-seq',{size:8.3,bold:true,rot:-Math.PI/2,align:'center'});

const chart = echarts.init(document.getElementById('c'), null, {renderer:'canvas', width:617, height:721});
chart.setOption({animation:false, backgroundColor:'#fff', grid:grids, xAxis:xAxes, yAxis:yAxes, series:series, graphic:{elements:graphics}});
</script></body></html>
